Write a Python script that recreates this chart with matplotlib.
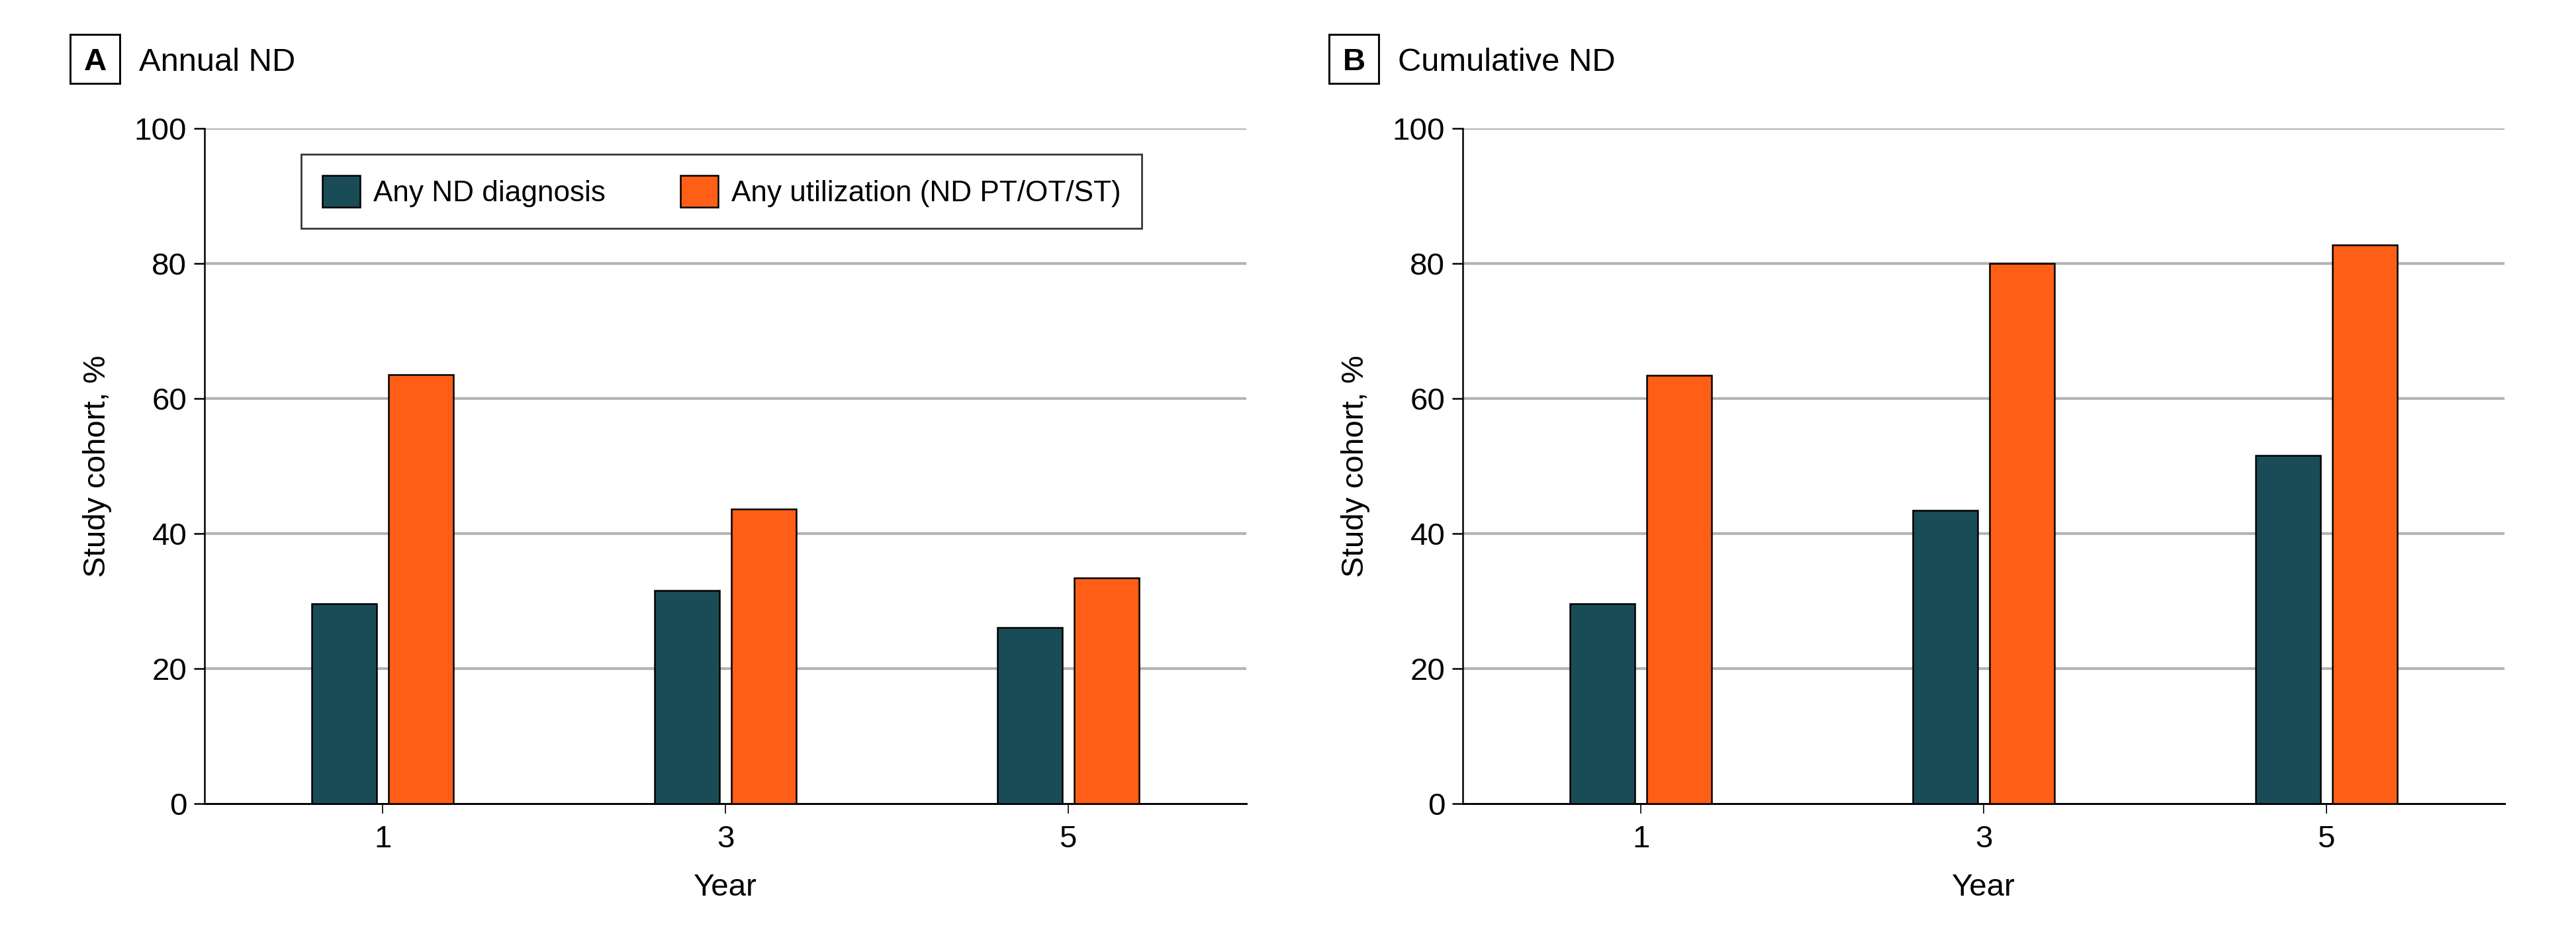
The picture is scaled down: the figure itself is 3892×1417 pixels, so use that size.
import numpy as np
import matplotlib
matplotlib.use('Agg')
import matplotlib.pyplot as plt
from matplotlib.patches import Rectangle

plt.rcParams['font.family'] = ['Liberation Sans', 'DejaVu Sans']

# data
years = ['1', '3', '5']
annual_dx = [29.6, 31.6, 26.1]
annual_util = [63.5, 43.6, 33.4]
cum_dx = [29.6, 43.4, 51.6]
cum_util = [63.4, 80.0, 82.7]
series_labels = ['Any ND diagnosis', 'Any utilization (ND PT/OT/ST)']
panel_titles = ['Annual ND', 'Cumulative ND']
panel_letters = ['A', 'B']

teal = '#1A4C57'
orange = '#FE5E15'
fs = 11.4

W, H = 3892, 1417
fig = plt.figure(figsize=(W / 300, H / 300), dpi=300)

ax_a = fig.add_axes([309 / W, 1 - 1214 / H, 1574 / W, 1020 / H])
ax_b = fig.add_axes([2210 / W, 1 - 1214 / H, 1574 / W, 1020 / H])

x = np.arange(len(years))
bw = 0.19
off = 0.112

for ax, dx, util in [(ax_a, annual_dx, annual_util), (ax_b, cum_dx, cum_util)]:
    ax.bar(x - off, dx, bw, color=teal, edgecolor='black', linewidth=0.6,
           label=series_labels[0], zorder=3)
    ax.bar(x + off, util, bw, color=orange, edgecolor='black', linewidth=0.6,
           label=series_labels[1], zorder=3)
    ax.set_xlim(-0.52, 2.52)
    ax.set_ylim(0, 100)
    ax.set_yticks([0, 20, 40, 60, 80, 100])
    ax.set_xticks(x)
    ax.set_xticklabels(years)
    for v in [20, 40, 60, 80, 100]:
        ax.axhline(v, color='#b4b4b4', linewidth=1.0, zorder=1)
    ax.spines['top'].set_visible(False)
    ax.spines['right'].set_visible(False)
    ax.spines['left'].set_linewidth(0.6)
    ax.spines['bottom'].set_linewidth(0.7)
    ax.tick_params(axis='y', length=3.8, width=0.6, pad=2.6, labelsize=fs)
    ax.tick_params(axis='x', length=3.6, width=0.4, pad=4.0, labelsize=fs)
    ax.set_ylabel('Study cohort, %', fontsize=fs)
    ax.set_xlabel('Year', fontsize=fs)
    ax.yaxis.set_label_coords(-0.089, 0.5)
    ax.xaxis.set_label_coords(0.5, -0.103)

leg = ax_a.legend(loc='upper left', bbox_to_anchor=(0.0928, 0.9618), ncol=2,
                  fontsize=10.6, frameon=True, fancybox=False, handlelength=1.3,
                  handleheight=1.32, handletextpad=0.45, columnspacing=2.55,
                  borderpad=0.72, borderaxespad=0)
leg.get_frame().set_edgecolor('black')
leg.get_frame().set_linewidth(0.65)

# panel letters and titles
for letter, title, bx in [('A', panel_titles[0], 106), ('B', panel_titles[1], 2008)]:
    fig.add_artist(Rectangle((bx / W, 1 - 126 / H), 75 / W, 74 / H,
                             transform=fig.transFigure, fill=False,
                             edgecolor='black', linewidth=0.7))
    fig.text((bx + 37.5) / W, 1 - 106 / H, letter, ha='center', va='baseline',
             fontsize=fs, fontweight='bold')
    fig.text((bx + 104) / W, 1 - 107 / H, title, ha='left', va='baseline',
             fontsize=fs * 1.03)

fig.savefig('out.png', dpi=300)
